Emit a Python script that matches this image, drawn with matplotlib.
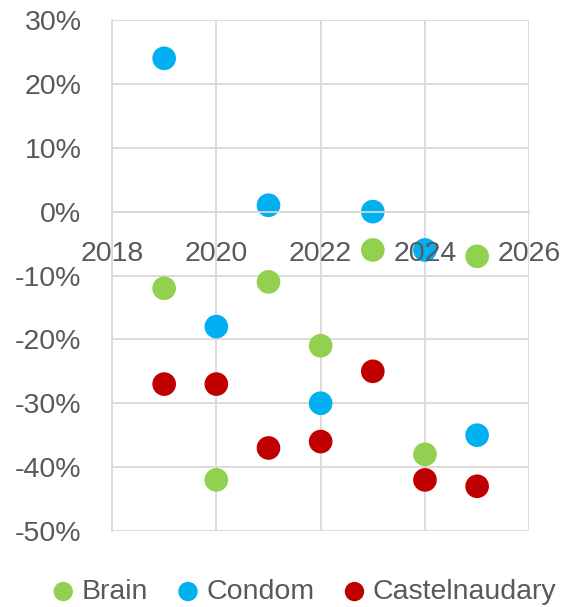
import matplotlib
matplotlib.use("Agg")
import matplotlib.pyplot as plt
from matplotlib.ticker import FuncFormatter, MultipleLocator

years = [2019, 2020, 2021, 2022, 2023, 2024, 2025]
brain = [-12, -42, -11, -21, -6, -38, -7]
condom = [24, -18, 1, -30, 0, -6, -35]
castelnaudary = [-27, -27, -37, -36, -25, -42, -43]
series_names = ["Brain", "Condom", "Castelnaudary"]
colors = ["#92D050", "#00B0F0", "#C00000"]

plt.rcParams['font.family'] = ['Liberation Sans', 'DejaVu Sans']
txt = "#595959"
fs = 20.5

fig = plt.figure(figsize=(5.66, 6.07), dpi=100)
pos = [112/566, 1-531/607, (529.3-112)/566, (531-20)/607]
ax = fig.add_axes(pos)
ax.set_xlim(2018, 2026)
ax.set_ylim(-50, 30)
ax.xaxis.set_major_locator(MultipleLocator(2))
ax.yaxis.set_major_locator(MultipleLocator(10))
ax.set_axisbelow(True)
ax.grid(True, color="#D9D9D9", linewidth=1.3)
for s in ["top", "right"]:
    ax.spines[s].set_visible(False)
ax.spines["left"].set_color("#D9D9D9")
ax.spines["left"].set_linewidth(1.3)
ax.spines["bottom"].set_position(("data", 0))
ax.spines["bottom"].set_color("#D9D9D9")
ax.spines["bottom"].set_linewidth(1.3)
ax.tick_params(axis="both", length=0, labelsize=fs, labelcolor=txt)
ax.tick_params(axis="y", pad=22)
ax.tick_params(axis="x", labelbottom=False)
ax.yaxis.set_major_formatter(FuncFormatter(lambda v, p: f"{v:.0f}%"))

for name, vals, c in zip(series_names, [brain, condom, castelnaudary], colors):
    ax.scatter(years, vals, s=290, color=c, edgecolors="none", zorder=2, label=name)

# overlay axes for x tick labels drawn on top of markers
ax2 = fig.add_axes(pos, sharex=ax, sharey=ax, zorder=5)
ax2.patch.set_visible(False)
for s in ax2.spines.values():
    s.set_visible(False)
ax2.spines["bottom"].set_position(("data", 0))
ax2.tick_params(axis="both", length=0, labelsize=fs, labelcolor=txt)
ax2.tick_params(axis="x", pad=21)
ax2.tick_params(axis="y", labelleft=False)
ax2.xaxis.set_major_formatter(FuncFormatter(lambda v, p: f"{v:.0f}"))

handles, labels = ax.get_legend_handles_labels()
leg = fig.legend(handles, labels, loc="center", bbox_to_anchor=(0.535, 1-592/607),
                 ncol=3, frameon=False, fontsize=fs, markerscale=0.82,
                 handletextpad=0.15, columnspacing=0.9, handlelength=1.0)
for t in leg.get_texts():
    t.set_color(txt)

fig.savefig("out.png", dpi=100)
